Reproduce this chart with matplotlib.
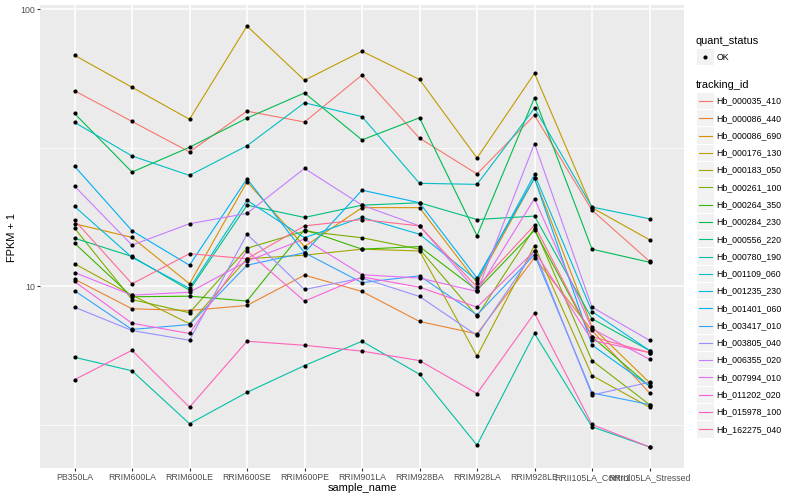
import math
import matplotlib
matplotlib.use("Agg")
import matplotlib.pyplot as plt
from matplotlib.patches import Rectangle
from matplotlib.lines import Line2D

plt.rcParams['font.family'] = ['Liberation Sans', 'DejaVu Sans']

samples = ["PB350LA", "RRIM600LA", "RRIM600LE", "RRIM600SE", "RRIM600PE", "RRIM901LA",
           "RRIM928BA", "RRIM928LA", "RRIM928LE", "RRII105LA_Control", "RRII105LA_Stressed"]

# FPKM + 1 per gene, one value per sample
hb_000035_410 = [50.7, 39.3, 30.5, 42.8, 39.1, 57.8, 34.2, 25.4, 41.4, 18.8, 12.3]
hb_000086_440 = [10.6, 8.29, 8.17, 8.52, 10.96, 9.57, 7.46, 6.73, 12.66, 6.92, 4.12]
hb_000086_690 = [16.8, 15.0, 10.2, 23.8, 13.9, 19.2, 19.2, 10.3, 24.5, 7.13, 4.49]
hb_000176_130 = [68.1, 52.2, 40.0, 86.8, 55.3, 70.4, 55.7, 29.0, 58.6, 19.2, 14.7]
hb_000183_050 = [12.05, 9.28, 7.32, 12.56, 12.94, 13.6, 13.4, 5.59, 14.0, 4.76, 3.66]
hb_000261_100 = [16.2, 8.95, 8.02, 13.7, 15.8, 14.95, 13.6, 7.79, 16.2, 5.39, 3.74]
hb_000264_350 = [14.3, 9.16, 9.20, 8.84, 16.0, 13.6, 13.9, 9.67, 15.9, 6.57, 4.36]
hb_000284_230 = [42.0, 25.8, 31.7, 40.4, 49.8, 33.7, 40.5, 15.2, 47.9, 13.6, 12.2]
hb_000556_220 = [14.9, 12.8, 9.67, 19.6, 17.7, 19.6, 20.0, 17.4, 17.9, 7.63, 5.86]
hb_000780_190 = [5.54, 4.95, 3.19, 4.14, 5.17, 6.33, 4.81, 2.67, 6.75, 3.11, 2.63]
hb_001109_060 = [39.0, 29.5, 25.1, 32.1, 45.9, 40.9, 23.5, 23.3, 43.9, 19.3, 17.5]
hb_001235_230 = [19.4, 12.7, 9.83, 20.4, 14.95, 17.7, 15.4, 10.5, 25.3, 8.1, 5.86]
hb_001401_060 = [27.1, 15.85, 11.9, 24.4, 13.2, 22.2, 20.0, 10.7, 24.5, 6.13, 4.36]
hb_003417_010 = [9.63, 6.98, 7.27, 11.9, 13.2, 10.3, 10.9, 7.88, 13.0, 4.12, 3.74]
hb_003805_040 = [8.40, 6.92, 6.38, 15.4, 9.73, 10.7, 9.18, 6.64, 13.4, 4.05, 4.50]
hb_006355_020 = [22.96, 14.06, 16.8, 18.3, 26.6, 19.6, 16.5, 9.57, 32.7, 8.40, 6.38]
hb_007994_010 = [11.2, 9.28, 9.51, 12.3, 14.8, 11.0, 10.7, 9.57, 20.7, 7.02, 5.45]
hb_011202_020 = [10.4, 7.35, 6.75, 13.4, 8.83, 10.8, 9.92, 8.40, 13.4, 6.38, 5.76]
hb_015978_100 = [4.60, 5.87, 3.66, 6.33, 6.12, 5.83, 5.39, 4.10, 7.99, 3.17, 2.63]
hb_162275_040 = [17.3, 10.2, 13.1, 12.56, 16.5, 17.4, 16.5, 9.92, 16.6, 6.57, 5.76]

tracking_ids = ["Hb_000035_410", "Hb_000086_440", "Hb_000086_690", "Hb_000176_130",
                "Hb_000183_050", "Hb_000261_100", "Hb_000264_350", "Hb_000284_230",
                "Hb_000556_220", "Hb_000780_190", "Hb_001109_060", "Hb_001235_230",
                "Hb_001401_060", "Hb_003417_010", "Hb_003805_040", "Hb_006355_020",
                "Hb_007994_010", "Hb_011202_020", "Hb_015978_100", "Hb_162275_040"]
series = [hb_000035_410, hb_000086_440, hb_000086_690, hb_000176_130, hb_000183_050,
          hb_000261_100, hb_000264_350, hb_000284_230, hb_000556_220, hb_000780_190,
          hb_001109_060, hb_001235_230, hb_001401_060, hb_003417_010, hb_003805_040,
          hb_006355_020, hb_007994_010, hb_011202_020, hb_015978_100, hb_162275_040]

# ggplot2 default hue palette for 20 levels
colors = ["#F8766D", "#EA8331", "#D89000", "#C09B00", "#A3A500", "#7CAE00", "#39B600",
          "#00BB4E", "#00BF7D", "#00C1A3", "#00BFC4", "#00BAE0", "#00B0F6", "#35A2FF",
          "#9590FF", "#C77CFF", "#E76BF3", "#FA62DB", "#FF62BC", "#FF6C91"]

fig = plt.figure(figsize=(8, 5), dpi=100)
ax = fig.add_axes([40 / 800, 1 - 468 / 500, 644 / 800, 463 / 500])
ax.set_facecolor("#EBEBEB")
for s in ax.spines.values():
    s.set_visible(False)

x = list(range(len(samples)))
for vals, c in zip(series, colors):
    ax.plot(x, vals, color=c, lw=0.8, zorder=3)
for vals in series:
    ax.plot(x, vals, 'o', color='black', ms=3, mew=0, zorder=4)

ax.set_yscale('log')
allv = [v for s in series for v in s]
lo, hi = math.log10(min(allv)), math.log10(max(allv))
pad = 0.05 * (hi - lo)
ax.set_ylim(10 ** (lo - pad), 10 ** (hi + pad))
ax.set_xlim(-0.6, len(samples) - 0.4)

ax.set_yticks([10, 100])
ax.set_yticklabels(["10", "100"])
ax.set_yticks([10 ** 0.5, 10 ** 1.5], minor=True)
ax.yaxis.set_minor_formatter(plt.NullFormatter())
ax.set_xticks(x)
ax.set_xticklabels(samples)
ax.tick_params(axis='both', which='major', length=2, width=0.8, color='#333333',
               labelsize=6.3, labelcolor='#4D4D4D', pad=1.5)
ax.tick_params(axis='y', which='minor', length=0)
ax.grid(True, which='major', color='white', lw=1.1, zorder=0)
ax.grid(True, which='minor', axis='y', color='white', lw=0.55, zorder=0)
ax.set_axisbelow(True)

fig.text(362 / 800, 1 - 488 / 500, "sample_name", ha='center', va='center', fontsize=7.9)
fig.text(12 / 800, 1 - 237 / 500, "FPKM + 1", ha='center', va='center', rotation=90,
         fontsize=7.9)

# legend drawn in pixel coordinates
lg = fig.add_axes([0, 0, 1, 1], facecolor='none')
lg.set_xlim(0, 800)
lg.set_ylim(500, 0)
lg.axis('off')

lg.text(696, 40.5, "quant_status", ha='left', va='center', fontsize=7.9)
lg.add_patch(Rectangle((697, 48.7), 16.5, 16.5, facecolor='#F2F2F2', edgecolor='none'))
lg.plot([705], [57], 'o', color='black', ms=3, mew=0)
lg.text(716.5, 57, "OK", ha='left', va='center', fontsize=6.3)

lg.text(696, 84.5, "tracking_id", ha='left', va='center', fontsize=7.9)
for i, (name, c) in enumerate(zip(tracking_ids, colors)):
    yc = 101 + 17.28 * i
    lg.add_patch(Rectangle((697, yc - 8.2), 16.5, 16.4, facecolor='#F2F2F2', edgecolor='none'))
    lg.add_line(Line2D([698.5, 712], [yc, yc], color=c, lw=0.8))
    lg.text(716.5, yc, name, ha='left', va='center', fontsize=6.3)

fig.savefig("out.png", dpi=100, facecolor='white')
